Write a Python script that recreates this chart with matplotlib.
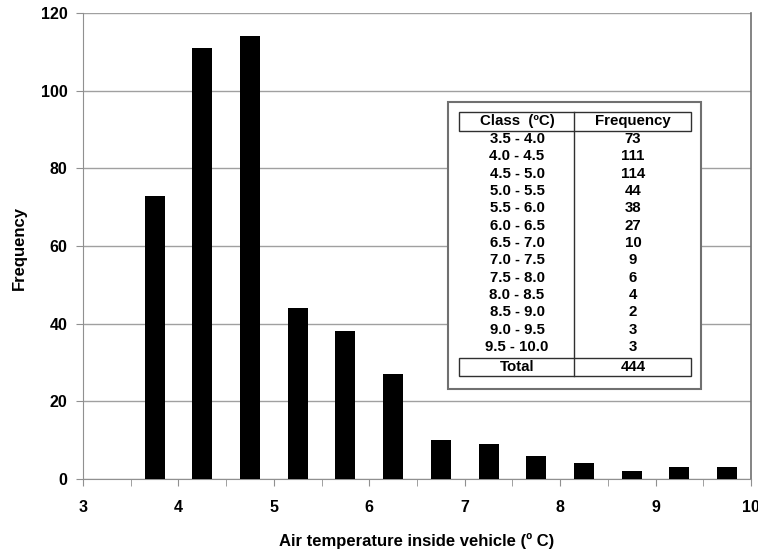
import matplotlib
matplotlib.use("Agg")
import matplotlib.pyplot as plt
from matplotlib.patches import Rectangle
from matplotlib.lines import Line2D

plt.rcParams['font.family'] = ['Liberation Sans', 'DejaVu Sans']

class_lo = [3.5, 4.0, 4.5, 5.0, 5.5, 6.0, 6.5, 7.0, 7.5, 8.0, 8.5, 9.0, 9.5]
class_hi = [4.0, 4.5, 5.0, 5.5, 6.0, 6.5, 7.0, 7.5, 8.0, 8.5, 9.0, 9.5, 10.0]
frequency = [73, 111, 114, 44, 38, 27, 10, 9, 6, 4, 2, 3, 3]
class_labels = ["3.5 - 4.0", "4.0 - 4.5", "4.5 - 5.0", "5.0 - 5.5", "5.5 - 6.0",
                "6.0 - 6.5", "6.5 - 7.0", "7.0 - 7.5", "7.5 - 8.0", "8.0 - 8.5",
                "8.5 - 9.0", "9.0 - 9.5", "9.5 - 10.0"]
x_ticks = [3, 4, 5, 6, 7, 8, 9, 10]
y_ticks = [0, 20, 40, 60, 80, 100, 120]

W, H = 758, 553
fig = plt.figure(figsize=(W / 100, H / 100), dpi=100)

def fx(px):
    return px / W

def fy(py):
    return 1 - py / H

ax = fig.add_axes([fx(83), fy(479), fx(751) - fx(83), fy(13) - fy(479)])
centers = [(a + b) / 2 for a, b in zip(class_lo, class_hi)]
ax.bar(centers, frequency, width=0.21, color='black', zorder=3)
ax.set_xlim(3, 10)
ax.set_ylim(0, 120)
ax.set_xticks(x_ticks)
ax.set_xticks([3 + 0.5 * i for i in range(15)], minor=True)
ax.set_yticks(y_ticks)
ax.grid(axis='y', color='#a0a0a0', linewidth=1, zorder=0)
for s in ['left', 'bottom']:
    ax.spines[s].set_color('#909090')
ax.spines['top'].set_visible(False)
ax.spines['right'].set_color('#707070')
ax.spines['right'].set_linewidth(1.2)
ax.tick_params(axis='both', which='both', direction='out', length=5, color='#909090',
               labelsize=11.5)
ax.tick_params(axis='x', which='major', pad=10)
ax.tick_params(axis='y', pad=6)
for lab in ax.get_xticklabels() + ax.get_yticklabels():
    lab.set_fontweight('bold')
fig.text(fx(417), fy(541), 'Air temperature inside vehicle (º C)', fontsize=12,
         fontweight='bold', ha='center', va='center')
fig.text(fx(19), fy(248), 'Frequency', fontsize=12, fontweight='bold',
         ha='center', va='center', rotation=90)

# Inset table
tr = fig.transFigure
def rect(x0, y0, x1, y1, ec, lw, fill):
    fig.patches.append(Rectangle((fx(x0), fy(y1)), fx(x1) - fx(x0), fy(y0) - fy(y1),
                                 transform=tr, facecolor=fill,
                                 edgecolor=ec, linewidth=lw, zorder=5))

rect(448, 102, 701, 389, '#707070', 1.5, 'white')
rect(459, 112, 691, 131, '#303030', 1.0, 'none')
rect(459, 358, 691, 376, '#303030', 1.0, 'none')
fig.lines.append(Line2D([fx(574), fx(574)], [fy(112), fy(376)], transform=tr,
                        color='#303030', linewidth=1.0, zorder=6))

c1, c2 = 517, 633
kw = dict(transform=tr, ha='center', va='center', fontsize=10.8, fontweight='bold', zorder=7)
fig.text(fx(c1), fy(121.5), 'Class  (ºC)', **kw)
fig.text(fx(c2), fy(121.5), 'Frequency', **kw)
for i, (lab, f) in enumerate(zip(class_labels, frequency)):
    yy = 139 + i * 17.33
    fig.text(fx(c1), fy(yy), lab, **kw)
    fig.text(fx(c2), fy(yy), str(f), **kw)
fig.text(fx(c1), fy(367), 'Total', **kw)
fig.text(fx(c2), fy(367), str(sum(frequency)), **kw)

fig.savefig('out.png', dpi=100)
